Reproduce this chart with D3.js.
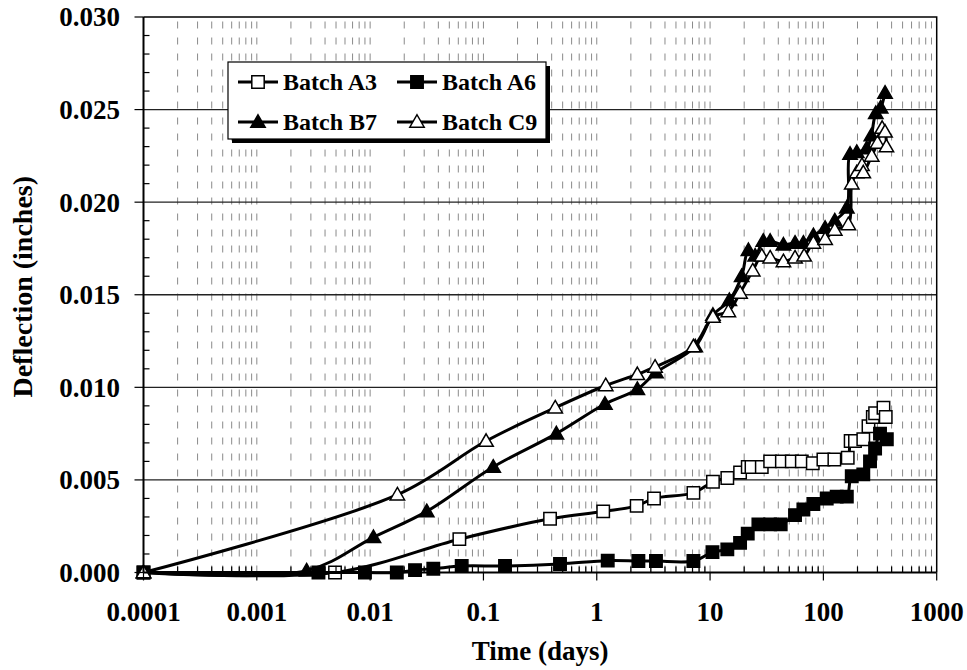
<!DOCTYPE html>
<html>
<head>
<meta charset="utf-8">
<script src="https://cdn.jsdelivr.net/npm/d3@7"></script>
<style>
  html, body { margin: 0; padding: 0; background: #fff; }
  svg { display: block; }
  text { font-family: "Liberation Serif", "Times New Roman", serif; font-weight: bold; fill: #000; }
</style>
</head>
<body>
<svg id="chart" width="967" height="670"></svg>
<script>
// Creep deflection readings per batch (time in days, deflection in inches)
const a3Time = [0.0001, 0.0049, 0.0613, 0.387, 1.14, 2.25, 3.2, 7.13, 10.6, 14.2, 18.4, 21.5, 23.2, 28.6, 33.9, 43, 52.6, 64.5, 80.6, 100, 125, 164, 174, 190, 225, 250, 273, 286, 339, 355];
const a3Defl = [0, 0, 0.0018, 0.0029, 0.0033, 0.0036, 0.0040, 0.0043, 0.0049, 0.0051, 0.0054, 0.0057, 0.0057, 0.0057, 0.0060, 0.0060, 0.0060, 0.0060, 0.0059, 0.0061, 0.0061, 0.0062, 0.0071, 0.0071, 0.0072, 0.0079, 0.0084, 0.0086, 0.0089, 0.0084];

const a6Time = [0.0001, 0.0035, 0.009, 0.0172, 0.0249, 0.0361, 0.0643, 0.155, 0.474, 1.25, 2.33, 3.33, 7.13, 10.5, 14.2, 18.4, 21.5, 26.7, 33.9, 42, 56.2, 66.6, 81.6, 107, 131, 161, 178, 225, 258, 286, 316, 363];
const a6Defl = [0, 0, 0, 0, 0.00013, 0.0002, 0.00035, 0.00035, 0.00046, 0.00064, 0.00062, 0.00062, 0.00062, 0.0011, 0.00125, 0.0016, 0.0021, 0.0026, 0.0026, 0.0026, 0.0031, 0.0034, 0.0037, 0.0040, 0.0041, 0.0041, 0.0052, 0.0053, 0.0060, 0.0067, 0.0075, 0.0072];

const b7Time = [0.0001, 0.00275, 0.0107, 0.0316, 0.122, 0.44, 1.18, 2.28, 3.33, 7.4, 10.6, 14.8, 19, 21.8, 25, 29.5, 33.9, 44.4, 56.2, 66.6, 81.6, 103.6, 126, 161, 172, 197, 241, 265, 290, 320, 350];
const b7Defl = [0, 0.0001, 0.0019, 0.0033, 0.0057, 0.0075, 0.0091, 0.0099, 0.0108, 0.0122, 0.0139, 0.0147, 0.0160, 0.0174, 0.0171, 0.0179, 0.0179, 0.0177, 0.0178, 0.0178, 0.0182, 0.0186, 0.0190, 0.0197, 0.0226, 0.0227, 0.0229, 0.0236, 0.0248, 0.0251, 0.0259];

const c9Time = [0.0001, 0.0174, 0.1055, 0.43, 1.2, 2.28, 3.27, 7.13, 10.6, 14.5, 18.4, 23.8, 28.6, 33.9, 44.4, 56.2, 67.6, 81.6, 103.6, 126, 166, 178, 197, 219, 225, 267, 300, 330, 350, 360];
const c9Defl = [0, 0.0042, 0.0071, 0.0089, 0.0101, 0.0107, 0.0111, 0.0122, 0.0138, 0.0141, 0.0151, 0.0163, 0.0171, 0.0170, 0.0168, 0.0170, 0.0171, 0.0178, 0.0180, 0.0185, 0.0188, 0.0210, 0.0216, 0.0220, 0.0216, 0.0225, 0.0232, 0.0240, 0.0238, 0.0230];

const seriesNames = ["Batch A3", "Batch A6", "Batch B7", "Batch C9"];
const seriesMarkers = ["square-open", "square-filled", "triangle-filled", "triangle-open"];

const xTickValues = [0.0001, 0.001, 0.01, 0.1, 1, 10, 100, 1000];
const xTickLabels = ["0.0001", "0.001", "0.01", "0.1", "1", "10", "100", "1000"];
const yTickValues = [0, 0.005, 0.010, 0.015, 0.020, 0.025, 0.030];
const yTickLabels = ["0.000", "0.005", "0.010", "0.015", "0.020", "0.025", "0.030"];

const xTitle = "Time (days)";
const yTitle = "Deflection (inches)";

// ---------------------------------------------------------------
const svg = d3.select("#chart");
const plotL = 143.5, plotR = 936.7, plotT = 17, plotB = 572.5;

const x = d3.scaleLog().domain([0.0001, 1000]).range([plotL, plotR]);
const y = d3.scaleLinear().domain([0, 0.03]).range([plotB, plotT]);

const series = [
  { name: seriesNames[0], marker: seriesMarkers[0], pts: a3Time.map((t, i) => [t, a3Defl[i]]) },
  { name: seriesNames[1], marker: seriesMarkers[1], pts: a6Time.map((t, i) => [t, a6Defl[i]]) },
  { name: seriesNames[2], marker: seriesMarkers[2], pts: b7Time.map((t, i) => [t, b7Defl[i]]) },
  { name: seriesNames[3], marker: seriesMarkers[3], pts: c9Time.map((t, i) => [t, c9Defl[i]]) }
];

// all 1..9 × decade positions for the log grid
const logGrid = [];
for (let e = -4; e < 3; e++) {
  for (let k = 1; k <= 9; k++) logGrid.push(k * Math.pow(10, e));
}
const minorX = logGrid.filter(v => Math.abs(Math.log10(v) - Math.round(Math.log10(v))) > 1e-9);

// vertical dashed grid (drawn bottom → top so the dash pattern starts at the axis)
svg.append("g").selectAll("line")
  .data(logGrid.filter(v => v > 0.0001 * 1.001))
  .join("line")
  .attr("x1", d => x(d)).attr("x2", d => x(d))
  .attr("y1", plotB).attr("y2", plotT)
  .attr("stroke", "#8a8a8a").attr("stroke-width", 1)
  .attr("stroke-dasharray", "7,9");

// horizontal solid grid at major values
svg.append("g").selectAll("line")
  .data(yTickValues.filter(v => v > 0 && v < 0.03))
  .join("line")
  .attr("x1", plotL).attr("x2", plotR)
  .attr("y1", d => y(d)).attr("y2", d => y(d))
  .attr("stroke", "#222").attr("stroke-width", 1.3);

// plot frame (top and right)
svg.append("path")
  .attr("d", `M${plotL},${plotT}H${plotR}V${plotB}`)
  .attr("fill", "none").attr("stroke", "#000").attr("stroke-width", 1.5);

// series lines
const line = d3.line()
  .x(d => x(d[0])).y(d => y(d[1]))
  .curve(d3.curveCatmullRom.alpha(0.5));

// marker shapes
function markerPath(kind) {
  if (kind.startsWith("square")) {
    const s = 6.2;
    return `M${-s},${-s}H${s}V${s}H${-s}Z`;
  }
  const w = 7.2, h = 12.5;
  return `M0,${-h * 0.58}L${w},${h * 0.42}L${-w},${h * 0.42}Z`;
}
function markerFill(kind) { return kind.endsWith("filled") ? "#000" : "#fff"; }

const plot = svg.append("g");
series.forEach(s => {
  plot.append("path")
    .attr("d", line(s.pts))
    .attr("fill", "none").attr("stroke", "#000").attr("stroke-width", 3)
    .attr("stroke-linejoin", "round");
  plot.append("g").selectAll("path")
    .data(s.pts)
    .join("path")
    .attr("transform", d => `translate(${x(d[0])},${y(d[1])})`)
    .attr("d", markerPath(s.marker))
    .attr("fill", markerFill(s.marker))
    .attr("stroke", "#000").attr("stroke-width", 1.5);
});

// axes
const yAxis = svg.append("g");
yAxis.append("line").attr("x1", plotL).attr("x2", plotL).attr("y1", plotT).attr("y2", plotB)
  .attr("stroke", "#000").attr("stroke-width", 2);
yAxis.selectAll(".minor").data(d3.range(0, 31).map(i => i * 0.001).filter((v, i) => i % 5 !== 0))
  .join("line").attr("class", "minor")
  .attr("x1", plotL).attr("x2", plotL + 6)
  .attr("y1", d => y(d)).attr("y2", d => y(d))
  .attr("stroke", "#000").attr("stroke-width", 1.2);
yAxis.selectAll(".major").data(yTickValues)
  .join("line").attr("class", "major")
  .attr("x1", plotL - 9).attr("x2", plotL)
  .attr("y1", d => y(d)).attr("y2", d => y(d))
  .attr("stroke", "#000").attr("stroke-width", 1.2);
yAxis.selectAll("text").data(yTickValues)
  .join("text")
  .attr("x", 120).attr("y", d => y(d)).attr("dy", "0.35em")
  .attr("text-anchor", "end").attr("font-size", 27)
  .text((d, i) => yTickLabels[i]);

const xAxis = svg.append("g");
xAxis.append("line").attr("x1", plotL).attr("x2", plotR).attr("y1", plotB).attr("y2", plotB)
  .attr("stroke", "#000").attr("stroke-width", 2);
xAxis.selectAll(".minor").data(minorX)
  .join("line").attr("class", "minor")
  .attr("x1", d => x(d)).attr("x2", d => x(d))
  .attr("y1", plotB - 6).attr("y2", plotB)
  .attr("stroke", "#000").attr("stroke-width", 1.2);
xAxis.selectAll(".major").data(xTickValues)
  .join("line").attr("class", "major")
  .attr("x1", d => x(d)).attr("x2", d => x(d))
  .attr("y1", plotB).attr("y2", plotB + 8)
  .attr("stroke", "#000").attr("stroke-width", 1.2);
xAxis.selectAll("text").data(xTickValues)
  .join("text")
  .attr("x", d => x(d)).attr("y", 621)
  .attr("text-anchor", "middle").attr("font-size", 27)
  .text((d, i) => xTickLabels[i]);

// axis titles
svg.append("text")
  .attr("x", (plotL + plotR) / 2).attr("y", 660)
  .attr("text-anchor", "middle").attr("font-size", 27)
  .text(xTitle);
svg.append("text")
  .attr("transform", `translate(31.5,${(plotT + plotB) / 2 - 8}) rotate(-90)`)
  .attr("text-anchor", "middle").attr("font-size", 28)
  .text(yTitle);

// legend with drop shadow
const lg = { x: 228, y: 62, w: 318, h: 77 };
const legend = svg.append("g");
legend.append("rect").attr("x", lg.x + 4).attr("y", lg.y + 4).attr("width", lg.w).attr("height", lg.h).attr("fill", "#000");
legend.append("rect").attr("x", lg.x).attr("y", lg.y).attr("width", lg.w).attr("height", lg.h)
  .attr("fill", "#fff").attr("stroke", "#000").attr("stroke-width", 1.2);
const cols = [10, 169], rows = [20, 60];
series.forEach((s, i) => {
  const gx = lg.x + cols[i % 2], gy = lg.y + rows[Math.floor(i / 2)];
  const item = legend.append("g").attr("transform", `translate(${gx},${gy})`);
  item.append("line").attr("x1", 0).attr("x2", 40).attr("y1", 0).attr("y2", 0)
    .attr("stroke", "#000").attr("stroke-width", 3);
  item.append("path").attr("transform", "translate(20,0)")
    .attr("d", markerPath(s.marker)).attr("fill", markerFill(s.marker))
    .attr("stroke", "#000").attr("stroke-width", 1.5);
  item.append("text").attr("x", 45).attr("y", 0).attr("dy", "0.35em")
    .attr("font-size", 24).text(s.name);
});
</script>
</body>
</html>
